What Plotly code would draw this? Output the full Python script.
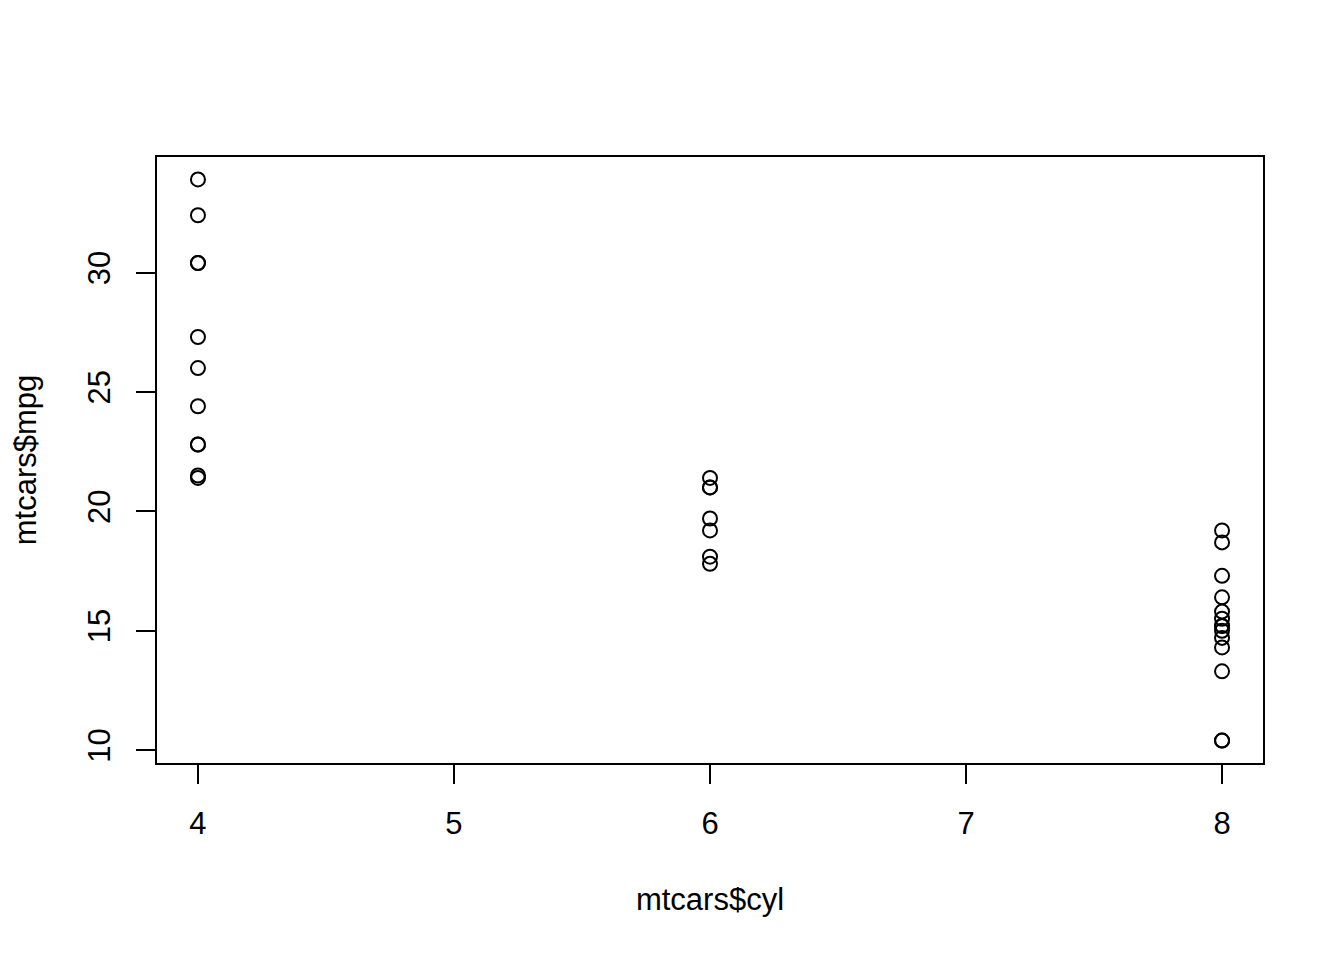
import plotly.graph_objects as go

# mtcars: cyl and mpg, one entry per car
cyl = [6, 6, 4, 6, 8, 6, 8, 4, 4, 6, 6, 8, 8, 8, 8, 8,
       8, 4, 4, 4, 4, 8, 8, 8, 8, 4, 4, 4, 8, 6, 8, 4]
mpg = [21.0, 21.0, 22.8, 21.4, 18.7, 18.1, 14.3, 24.4, 22.8, 19.2, 17.8,
       16.4, 17.3, 15.2, 10.4, 10.4, 14.7, 32.4, 30.4, 33.9, 21.5, 15.5,
       15.2, 13.3, 19.2, 27.3, 26.0, 30.4, 15.8, 19.7, 15.0, 21.4]

x_ticks = [4, 5, 6, 7, 8]
y_ticks = [10, 15, 20, 25, 30]

FONT = 'Liberation Sans, Arial, sans-serif'


def padded(vals):
    # R style 4% range extension
    lo, hi = min(vals), max(vals)
    d = (hi - lo) * 0.04
    return [lo - d, hi + d]


fig = go.Figure(
    go.Scatter(
        x=cyl,
        y=mpg,
        mode='markers',
        marker=dict(symbol='circle-open', size=14, color='black',
                    line=dict(width=2, color='black')),
        showlegend=False
    )
)

axis_common = dict(
    showgrid=False,
    zeroline=False,
    showline=True,
    mirror=True,
    linecolor='black',
    linewidth=2,
    ticks='outside',
    ticklen=19,
    tickwidth=2,
    tickcolor='black',
    tickfont=dict(size=31, color='black', family=FONT),
)

# page body has an 8px margin, so the figure is a bit smaller than the window
fig.update_layout(
    width=1336,
    height=952,
    paper_bgcolor='white',
    plot_bgcolor='white',
    margin=dict(l=149, r=81, t=149, b=197),
    font=dict(family=FONT, color='black'),
    xaxis=dict(
        range=padded(cyl),
        tickvals=x_ticks,
        ticklabelstandoff=13,
        title=dict(text='mtcars$cyl', font=dict(size=31), standoff=48),
        **axis_common
    ),
    yaxis=dict(
        range=padded(mpg),
        tickvals=y_ticks,
        tickangle=-90,
        ticklabelstandoff=14,
        title=dict(text='mtcars$mpg', font=dict(size=31), standoff=36),
        **axis_common
    ),
)

fig.write_html('out.html')
